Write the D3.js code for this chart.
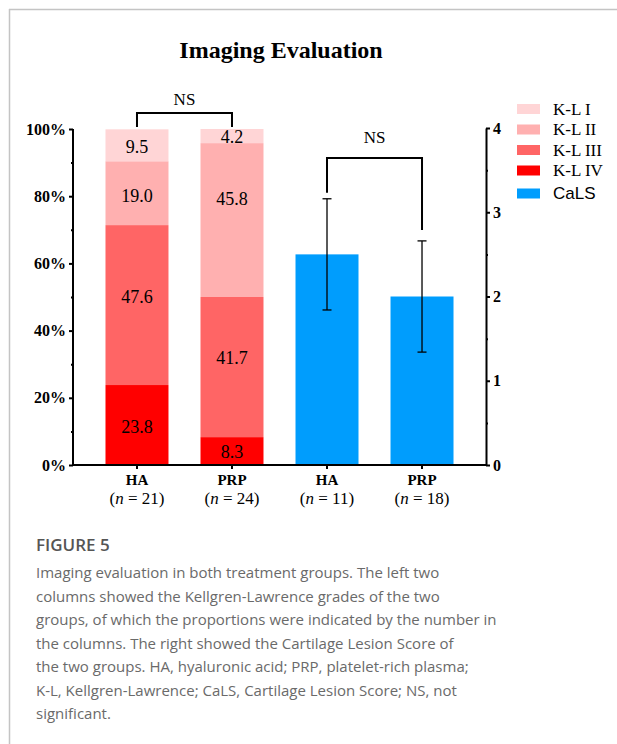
<!DOCTYPE html>
<html>
<head>
<meta charset="utf-8">
<script src="https://cdn.jsdelivr.net/npm/d3@7"></script>
<style>
  html, body { margin: 0; padding: 0; background: #fff; }
  svg { display: block; }
</style>
</head>
<body>
<svg id="fig" width="617" height="744"></svg>
<script>
// ---- data ----
const groups = ["HA", "PRP"];
const klN = [21, 24];                 // patients per group, K-L grading
const calsN = [11, 18];               // patients per group, CaLS
const grades = ["K-L I", "K-L II", "K-L III", "K-L IV"];
const klHA = [9.5, 19.0, 47.6, 23.8]; // % per grade, I..IV
const klPRP = [4.2, 45.8, 41.7, 8.3];
const calsMean = [2.5, 2.0];
const calsSD = [0.66, 0.66];
const pctTicks = [0, 20, 40, 60, 80, 100];
const pctMinor = [10, 30, 50, 70, 90];
const calsTicks = [0, 1, 2, 3, 4];
const calsMinor = [0.5, 1.5, 2.5, 3.5];
const captionTitle = "FIGURE 5";
const captionLines = [
  "Imaging evaluation in both treatment groups. The left two",
  "columns showed the Kellgren-Lawrence grades of the two",
  "groups, of which the proportions were indicated by the number in",
  "the columns. The right showed the Cartilage Lesion Score of",
  "the two groups. HA, hyaluronic acid; PRP, platelet-rich plasma;",
  "K-L, Kellgren-Lawrence; CaLS, Cartilage Lesion Score; NS, not",
  "significant."
];

// ---- styles ----
const gradeColors = ["#ffd5d6", "#ffb0b0", "#ff6565", "#ff0000"];
const calsColor = "#009dfd";
const serif = "'Liberation Serif', 'Times New Roman', serif";
const sans = "'Liberation Sans', Arial, sans-serif";

const svg = d3.select("#fig");

// page frame
svg.append("line").attr("x1", 9).attr("x2", 617).attr("y1", 9.5).attr("y2", 9.5)
  .attr("stroke", "#c4c4c4").attr("stroke-width", 1.5);
svg.append("line").attr("x1", 9.5).attr("x2", 9.5).attr("y1", 9).attr("y2", 744)
  .attr("stroke", "#c4c4c4").attr("stroke-width", 1.5);

// ---- scales ----
const plotL = 73, plotR = 486, plotB = 465, plotT = 129;
const cols = ["HA-KL", "PRP-KL", "HA-CaLS", "PRP-CaLS"];
const x = d3.scaleBand().domain(cols).range([plotL, plotR])
  .paddingInner(0.337).paddingOuter(0.342);
const yPct = d3.scaleLinear().domain([0, 100]).range([plotB, plotT]);
const yCals = d3.scaleLinear().domain([0, 4]).range([plotB, plotT - 1]);

// title
svg.append("text").attr("x", 281).attr("y", 58).attr("text-anchor", "middle")
  .attr("font-family", serif).attr("font-weight", "bold").attr("font-size", 24)
  .attr("fill", "#000").text("Imaging Evaluation");

// ---- stacked K-L bars ----
const klSets = [klHA, klPRP];
const labelAnchor = [[94.7, 80.1, 50.1, 11.4], [97.7, 79.4, 31.8, 4.0]];
klSets.forEach((vals, gi) => {
  const col = cols[gi];
  // stack from grade IV at the bottom up to grade I
  let base = 0;
  const segs = [];
  for (let k = vals.length - 1; k >= 0; k--) {
    segs.push({ k, y0: base, y1: base + vals[k], v: vals[k] });
    base += vals[k];
  }
  const g = svg.append("g");
  g.selectAll("rect").data(segs).join("rect")
    .attr("x", x(col)).attr("width", x.bandwidth())
    .attr("y", d => yPct(Math.min(d.y1, 100)))
    .attr("height", d => yPct(d.y0) - yPct(Math.min(d.y1, 100)))
    .attr("fill", d => gradeColors[d.k]);
  g.selectAll("text").data(segs).join("text")
    .attr("x", x(col) + x.bandwidth() / 2)
    .attr("y", d => yPct(labelAnchor[gi][d.k]))
    .attr("dy", "0.35em").attr("text-anchor", "middle")
    .attr("font-family", serif).attr("font-size", 18).attr("fill", "#000")
    .text(d => d.v.toFixed(1));
});

// ---- CaLS bars with SD error bars ----
const calsData = groups.map((gname, i) => ({ col: cols[i + 2], m: calsMean[i], sd: calsSD[i] }));
svg.append("g").selectAll("rect").data(calsData).join("rect")
  .attr("x", d => x(d.col)).attr("width", x.bandwidth())
  .attr("y", d => yCals(d.m)).attr("height", d => yCals(0) - yCals(d.m))
  .attr("fill", calsColor);
const eb = svg.append("g").attr("stroke", "#000").attr("stroke-width", 1.3).attr("fill", "none");
calsData.forEach(d => {
  const cx = x(d.col) + x.bandwidth() / 2;
  eb.append("line").attr("x1", cx).attr("x2", cx)
    .attr("y1", yCals(d.m + d.sd)).attr("y2", yCals(d.m - d.sd));
  [d.m + d.sd, d.m - d.sd].forEach(v => {
    eb.append("line").attr("x1", cx - 4.5).attr("x2", cx + 4.5)
      .attr("y1", yCals(v)).attr("y2", yCals(v));
  });
});

// ---- axes ----
const axisStyle = g => {
  g.selectAll("path, line").attr("stroke", "#000").attr("stroke-width", 2);
  g.selectAll("text").attr("font-family", serif).attr("font-weight", "bold")
    .attr("font-size", 16).attr("fill", "#000");
};
svg.append("g").attr("transform", `translate(${plotL},0)`)
  .call(d3.axisLeft(yPct).tickValues(pctTicks).tickFormat(d => d + "%").tickSize(4).tickSizeOuter(0).tickPadding(3))
  .call(axisStyle).call(g => g.select(".domain").attr("d", `M0,${plotT}V${plotB}`));
svg.append("g").attr("transform", `translate(${plotL},0)`)
  .call(d3.axisLeft(yPct).tickValues(pctMinor).tickFormat("").tickSize(2).tickSizeOuter(0))
  .call(axisStyle).call(g => g.select(".domain").remove());

svg.append("g").attr("transform", `translate(${plotR},0)`)
  .call(d3.axisRight(yCals).tickValues(calsTicks).tickFormat(d3.format("d")).tickSize(4).tickSizeOuter(0).tickPadding(3))
  .call(axisStyle);
svg.append("g").attr("transform", `translate(${plotR},0)`)
  .call(d3.axisRight(yCals).tickValues(calsMinor).tickFormat("").tickSize(2).tickSizeOuter(0))
  .call(axisStyle).call(g => g.select(".domain").remove());

// bottom axis with group labels
const xAxis = svg.append("g").attr("transform", `translate(0,${plotB})`)
  .call(d3.axisBottom(x).tickSize(4).tickSizeOuter(0).tickFormat(""))
  .call(axisStyle);
xAxis.select(".domain").attr("d", `M${plotL},0H${plotR}`);
const nByCol = [klN[0], klN[1], calsN[0], calsN[1]];
cols.forEach((c, i) => {
  const cx = x(c) + x.bandwidth() / 2;
  svg.append("text").attr("x", cx).attr("y", 485).attr("text-anchor", "middle")
    .attr("font-family", serif).attr("font-weight", "bold").attr("font-size", 15)
    .text(groups[i % 2]);
  const t = svg.append("text").attr("x", cx).attr("y", 504).attr("text-anchor", "middle")
    .attr("font-family", serif).attr("font-size", 17);
  t.append("tspan").text("(");
  t.append("tspan").attr("font-style", "italic").text("n");
  t.append("tspan").text(" = " + nByCol[i] + ")");
});

// ---- significance brackets ----
const bracket = (x1, x2, yTop, yL, yR, label, labelY) => {
  svg.append("path")
    .attr("d", `M${x1},${yL}V${yTop}H${x2}V${yR}`)
    .attr("fill", "none").attr("stroke", "#000").attr("stroke-width", 2);
  svg.append("text").attr("x", (x1 + x2) / 2).attr("y", labelY).attr("text-anchor", "middle")
    .attr("font-family", serif).attr("font-size", 17).text(label);
};
const cHA = x(cols[0]) + x.bandwidth() / 2, cPRP = x(cols[1]) + x.bandwidth() / 2;
bracket(cHA, cPRP, 113, yPct(100) - 2, yPct(100) - 2, "NS", 105);
const cHA2 = x(cols[2]) + x.bandwidth() / 2, cPRP2 = x(cols[3]) + x.bandwidth() / 2;
bracket(cHA2, cPRP2, 158,
  yCals(calsMean[0] + calsSD[0]) - 6, yCals(calsMean[1] + calsSD[1]) - 11, "NS", 143);

// ---- legend ----
const legendItems = grades.map((gname, i) => ({ name: gname, color: gradeColors[i], font: serif }))
  .concat([{ name: "CaLS", color: calsColor, font: sans }]);
const legendY = [109, 129.5, 150, 170.5, 193.5];
const lg = svg.append("g");
legendItems.forEach((d, i) => {
  lg.append("rect").attr("x", 517).attr("y", legendY[i] - 5).attr("width", 23).attr("height", 10)
    .attr("fill", d.color);
  lg.append("text").attr("x", 553).attr("y", legendY[i]).attr("dy", "0.35em")
    .attr("font-family", d.font).attr("font-size", 17).attr("fill", "#000").text(d.name);
});

// ---- caption ----
svg.append("text").attr("x", 36).attr("y", 551)
  .attr("font-family", "'Open Sans', sans-serif").attr("font-weight", 600).attr("font-size", 17)
  .attr("fill", "#555").text(captionTitle);
svg.append("g").selectAll("text").data(captionLines).join("text")
  .attr("x", 36).attr("y", (d, i) => 578 + i * 23.5)
  .attr("font-family", "'Open Sans', sans-serif").attr("font-size", 15)
  .attr("fill", "#6a6a6a").text(d => d);
</script>
</body>
</html>
